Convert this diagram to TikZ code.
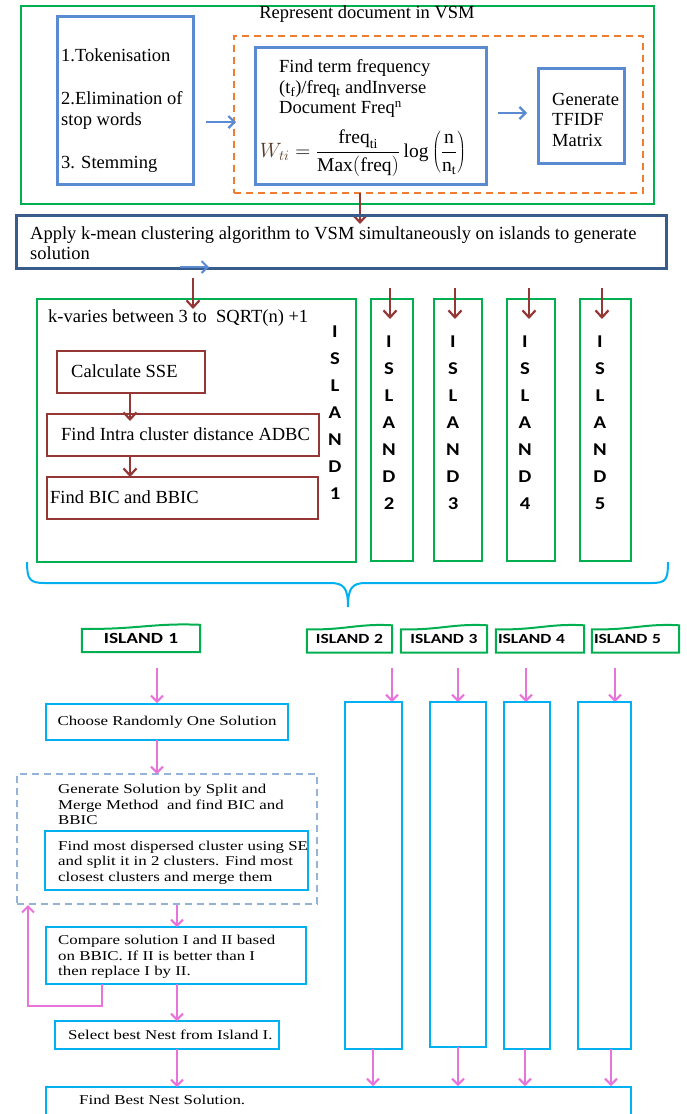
\documentclass[tikz,border=0pt]{standalone}
\usepackage{fontspec}
\setmainfont{Liberation Serif}
\newfontfamily\wideserif[FakeStretch=1.25]{Liberation Serif}
\newfontfamily\calibv[FakeStretch=1.15]{Carlito}
\newfontfamily\calibt[FakeStretch=1.25]{Carlito}
\usetikzlibrary{arrows.meta,calc}
\definecolor{vgreen}{HTML}{00B050}
\definecolor{tblue}{HTML}{5A8AD2}
\definecolor{vorange}{HTML}{ED7D31}
\definecolor{dblue}{HTML}{385D8A}
\definecolor{dred}{HTML}{953735}
\definecolor{lblue}{HTML}{00B0F0}
\definecolor{vpink}{HTML}{E873DA}
\definecolor{dashc}{HTML}{95B3D7}
\definecolor{wcol}{HTML}{5A3A22}
\newcommand\wavetag[1]{%
  \draw[tagline] (#1.south west) -- ($(#1.north west)+(0,-5pt)$)
    .. controls ($(#1.north west)!0.45!(#1.north east)+(0,-6pt)$) and ($(#1.north west)!0.6!(#1.north east)+(0,1pt)$)
    .. ($(#1.north east)+(0,-1pt)$) -- (#1.south east) -- cycle;}
\begin{document}
\begin{tikzpicture}[x=1pt,y=-1pt,
  box/.style={draw, anchor=north west, inner sep=0pt, outer sep=0pt},
  greenbox/.style={box, draw=vgreen, line width=2.5pt},
  topbluebox/.style={box, draw=tblue, line width=3pt},
  orangedash/.style={box, draw=vorange, line width=2pt, dash pattern=on 7pt off 5pt},
  applybox/.style={box, draw=dblue, line width=3pt},
  redbox/.style={box, draw=dred, line width=2.5pt},
  lbbox/.style={box, draw=lblue, line width=2.2pt},
  dashbox/.style={box, draw=dashc, line width=1.5pt, dash pattern=on 7pt off 5pt},
  txt/.style={inner sep=0pt, align=left, anchor=west, font=\fontsize{18.5}{20.5}\selectfont},
  btxt/.style={inner sep=0pt, align=left, anchor=west, font=\wideserif\fontsize{13.5}{15.7}\selectfont},
  vlet/.style={inner sep=0pt, align=center, font=\calibv\bfseries\fontsize{18}{27}\selectfont},
  tagbox/.style={inner xsep=2pt, inner ysep=0pt, minimum height=28pt, font=\calibt\bfseries\fontsize{14}{16}\selectfont},
  tagline/.style={draw=vgreen, line width=2pt},
  redarrow/.style={draw=dred, line width=2.2pt, -{Straight Barb[length=7pt,width=13pt]}},
  bluearrow/.style={draw=tblue, line width=2.2pt, -{Straight Barb[length=6pt,width=12pt]}},
  pinkarrow/.style={draw=vpink, line width=2pt, -{Straight Barb[length=6pt,width=12pt]}},
]
\fill[white] (0,0) rectangle (686,1114);
\useasboundingbox (0,0) rectangle (686,1114);

% ---------- top: VSM ----------
\node[greenbox, minimum width=633, minimum height=198] (vsm) at (21,6) {};
\node[txt, anchor=center] (title) at (367,14) {Represent document in VSM};
\node[topbluebox, minimum width=136, minimum height=168] (tok) at (57,16) {};
\node[txt] (tokT) at (61,110.5) {1.Tokenisation\\[23pt]2.Elimination of\\stop words\\[23pt]3. Stemming};
\node[orangedash, minimum width=409, minimum height=157] (dash) at (234,36) {};
\node[topbluebox, minimum width=231, minimum height=137] (tf) at (255,47) {};
\node[txt] (tfT) at (279,88.5) {Find term frequency\\(t\textsubscript{f})/freq\textsubscript{t} andInverse\\Document Freq\textsuperscript{n}};
\node[inner sep=0pt, font=\fontsize{19.5}{22}\selectfont] (wform) at (363,153)
  {$\displaystyle {\color{wcol}W_{ti}} = \frac{\mathrm{freq}_{\mathrm{ti}}}{\mathrm{Max(freq)}}\log\left(\frac{\mathrm{n}}{\mathrm{n_t}}\right)$};
\node[topbluebox, minimum width=86, minimum height=95] (gen) at (538,68) {};
\node[txt] (genT) at (552,119.5) {Generate\\TFIDF\\Matrix};
\coordinate (b1s) at (206,122); \coordinate (b1e) at (236,122);
\coordinate (b2s) at (498,113); \coordinate (b2e) at (527,113);
\draw[bluearrow] (b1s) -- (b1e);
\draw[bluearrow] (b2s) -- (b2e);
\coordinate (r0s) at (360,193); \coordinate (r0e) at (360,224);
\draw[redarrow] (r0s) -- (r0e);

% ---------- apply ----------
\node[applybox, minimum width=650, minimum height=53] (apply) at (16,215) {};
\node[txt] (applyT) at (30,243) {Apply k-mean clustering algorithm to VSM simultaneously on islands to generate\\solution};
\coordinate (sa1) at (180,267); \coordinate (sa2) at (209,267);
\draw[bluearrow, line width=2pt] (sa1) -- (sa2);

% ---------- islands ----------
\node[greenbox, minimum width=319, minimum height=263] (isl1) at (37,299) {};
\node[txt] (kvar) at (48,318) {k-varies between 3 to\ \ SQRT(n) +1};
\node[redbox, minimum width=148, minimum height=42] (calc) at (57,351) {};
\node[txt] (calcT) at (71,371) {Calculate SSE};
\node[redbox, minimum width=272, minimum height=42] (intra) at (47,414) {};
\node[txt] (intraT) at (61,434) {Find Intra cluster distance ADBC};
\node[redbox, minimum width=271, minimum height=42] (bic) at (47,477) {};
\node[txt] (bicT) at (50,497) {Find BIC and BBIC};
\node[vlet] (v1) at (335,413) {I\\S\\L\\A\\N\\D\\1};

\node[greenbox, minimum width=42, minimum height=262] (isl2) at (371,299) {};
\node[greenbox, minimum width=48, minimum height=262] (isl3) at (434,299) {};
\node[greenbox, minimum width=48, minimum height=262] (isl4) at (507,299) {};
\node[greenbox, minimum width=51, minimum height=262] (isl5) at (580,299) {};
\node[vlet] (v2) at (389,423) {I\\S\\L\\A\\N\\D\\2};
\node[vlet] (v3) at (453,423) {I\\S\\L\\A\\N\\D\\3};
\node[vlet] (v4) at (525,423) {I\\S\\L\\A\\N\\D\\4};
\node[vlet] (v5) at (600,423) {I\\S\\L\\A\\N\\D\\5};

\coordinate (a1s) at (193,278); \coordinate (a1e) at (193,309);
\coordinate (a2s) at (390,288); \coordinate (a2e) at (390,319);
\coordinate (a3s) at (455,288); \coordinate (a3e) at (455,319);
\coordinate (a4s) at (529,288); \coordinate (a4e) at (529,319);
\coordinate (a5s) at (602,288); \coordinate (a5e) at (602,319);
\foreach \i in {1,...,5} {\draw[redarrow] (a\i s) -- (a\i e);}
\coordinate (c1s) at (130,393); \coordinate (c1e) at (130,421);
\coordinate (c2s) at (130,456); \coordinate (c2e) at (130,477);
\draw[redarrow] (c1s) -- (c1e);
\draw[redarrow] (c2s) -- (c2e);

% ---------- brace ----------
\draw[lblue, line width=2pt] (27,562) .. controls (27,580) and (30,583) .. (45,583) -- (330,583)
  .. controls (344,583) and (348,588) .. (348,607)
  .. controls (348,588) and (352,583) .. (366,583) -- (651,583)
  .. controls (666,583) and (668,580) .. (668,562);

% ---------- island tags ----------
\node[tagbox, minimum width=118, text width=114, align=center, font=\calibt\bfseries\fontsize{15.5}{18}\selectfont] (tag1) at (141,638) {ISLAND 1};
\node[tagbox, minimum width=85, text width=81, align=center] (tag2) at (349.5,638.5) {ISLAND 2};
\node[tagbox, minimum width=86, text width=82, align=center] (tag3) at (444,638.5) {ISLAND 3};
\node[tagbox, minimum width=88, text width=84, align=left] (tag4) at (540,638.5) {ISLAND 4};
\node[tagbox, minimum width=87, text width=83, align=left] (tag5) at (635.5,638.5) {ISLAND 5};
\wavetag{tag1}\wavetag{tag2}\wavetag{tag3}\wavetag{tag4}\wavetag{tag5}

\coordinate (p1s) at (157,668); \coordinate (p1e) at (157,703);
\coordinate (p2s) at (392,668); \coordinate (p2e) at (392,702);
\coordinate (p3s) at (458,668); \coordinate (p3e) at (458,702);
\coordinate (p4s) at (526,668); \coordinate (p4e) at (526,702);
\coordinate (p5s) at (615,668); \coordinate (p5e) at (615,702);
\foreach \i in {1,...,5} {\draw[pinkarrow] (p\i s) -- (p\i e);}

% ---------- island 1 flow ----------
\node[lbbox, minimum width=242, minimum height=36, font=\wideserif\fontsize{13.5}{15.7}\selectfont] (choose) at (46,704) {Choose Randomly One Solution};
\node[dashbox, minimum width=300, minimum height=130] (split) at (17,774) {};
\node[btxt] (splitT) at (58,804.5) {Generate Solution by Split and\\Merge Method\ \ and find BIC and\\BBIC};
\node[lbbox, minimum width=263, minimum height=59] (disp) at (45,831) {};
\node[btxt] (dispT) at (58,862.5) {Find most dispersed cluster using SE\\and split it in 2 clusters. Find most\\closest clusters and merge them};
\node[lbbox, minimum width=260, minimum height=57] (comp) at (46,927) {};
\node[btxt] (compT) at (58,957) {Compare solution I and II based\\on BBIC. If II is better than I\\then replace I by II.};
\node[lbbox, minimum width=224, minimum height=28] (sel) at (55,1021) {};
\node[btxt] (selT) at (68,1035) {Select best Nest from Island I.};
\node[lbbox, minimum width=585, minimum height=40] (final) at (46,1087) {};
\node[btxt] (finalT) at (79,1100) {Find Best Nest Solution.};

\coordinate (q1s) at (157,740); \coordinate (q1e) at (157,774);
\coordinate (q2s) at (177,905); \coordinate (q2e) at (177,927);
\coordinate (q3s) at (177,984); \coordinate (q3e) at (177,1021);
\coordinate (q4s) at (177,1049); \coordinate (q4e) at (177,1087);
\foreach \i in {1,...,4} {\draw[pinkarrow] (q\i s) -- (q\i e);}
\coordinate (fb1) at (102,984); \coordinate (fbc) at (28,1006); \coordinate (fb2) at (28,905);
\draw[pinkarrow] (fb1) |- (fbc) -- (fb2);

% ---------- other islands columns ----------
\node[lbbox, minimum width=57, minimum height=347] (col2) at (345,702) {};
\node[lbbox, minimum width=56, minimum height=345] (col3) at (430,702) {};
\node[lbbox, minimum width=46, minimum height=347] (col4) at (504,702) {};
\node[lbbox, minimum width=53, minimum height=347] (col5) at (578,702) {};
\coordinate (e2s) at (373,1049); \coordinate (e2e) at (373,1086);
\coordinate (e3s) at (458,1047); \coordinate (e3e) at (458,1086);
\coordinate (e4s) at (525,1049); \coordinate (e4e) at (525,1086);
\coordinate (e5s) at (611,1049); \coordinate (e5e) at (611,1086);
\foreach \i in {2,...,5} {\draw[pinkarrow] (e\i s) -- (e\i e);}
\end{tikzpicture}
\end{document}
